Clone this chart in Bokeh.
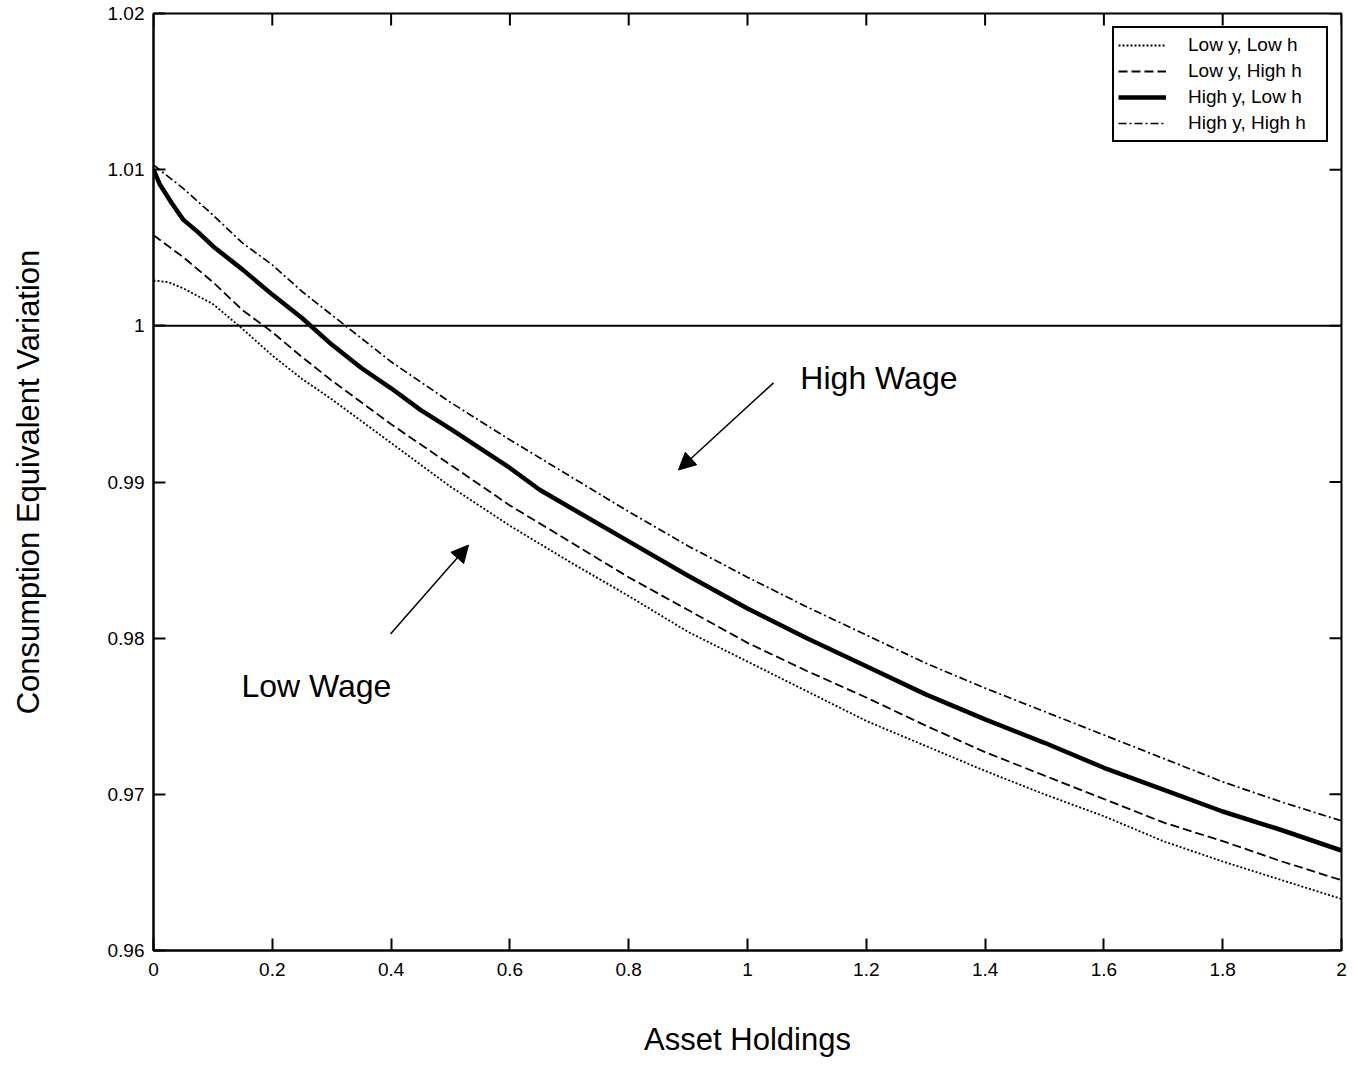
import math
from bokeh.plotting import figure
from bokeh.models import (FixedTicker, CustomJSTickFormatter, Span, Legend,
                          LegendItem, Arrow, NormalHead, Label, Range1d)
from bokeh.embed import file_html
from bokeh.resources import INLINE

# ---- data ----
x_ll = [0, 0.025, 0.05, 0.075, 0.1, 0.125, 0.15, 0.2, 0.25, 0.3, 0.4, 0.5, 0.6, 0.7, 0.8, 0.9,
        1.0, 1.1, 1.2, 1.3, 1.4, 1.5, 1.6, 1.7, 1.8, 1.9, 2.0]
low_y_low_h = [1.0029, 1.0028, 1.0024, 1.0019, 1.0014, 1.0006, 0.9998, 0.9981, 0.9966, 0.9953,
               0.9925, 0.9897, 0.9872, 0.9849, 0.9827, 0.9804, 0.9785, 0.9766, 0.9747, 0.9731,
               0.9715, 0.9700, 0.9686, 0.9670, 0.9657, 0.9645, 0.9633]

x_lh = [0, 0.05, 0.1, 0.15, 0.2, 0.25, 0.3, 0.4, 0.5, 0.6, 0.7, 0.8, 0.9, 1.0, 1.1, 1.2, 1.3,
        1.4, 1.5, 1.6, 1.7, 1.8, 1.9, 2.0]
low_y_high_h = [1.0058, 1.0044, 1.0028, 1.0010, 0.9996, 0.9980, 0.9965, 0.9937, 0.9911, 0.9885,
                0.9862, 0.9839, 0.9818, 0.9797, 0.9779, 0.9762, 0.9744, 0.9727, 0.9712, 0.9697,
                0.9682, 0.9670, 0.9657, 0.9645]

x_hl = [0, 0.01, 0.03, 0.05, 0.075, 0.1, 0.15, 0.2, 0.25, 0.3, 0.35, 0.4, 0.45, 0.5, 0.6, 0.65,
        0.7, 0.8, 0.9, 1.0, 1.1, 1.2, 1.3, 1.4, 1.5, 1.6, 1.7, 1.8, 1.9, 2.0]
high_y_low_h = [1.0100, 1.0091, 1.0079, 1.0068, 1.0060, 1.0051, 1.0036, 1.0020, 1.0005, 0.9988,
                0.9973, 0.9960, 0.9946, 0.9934, 0.9909, 0.9895, 0.9884, 0.9862, 0.9840, 0.9819,
                0.9800, 0.9782, 0.9764, 0.9748, 0.9733, 0.9717, 0.9703, 0.9689, 0.9677, 0.9664]

x_hh = [0, 0.02, 0.05, 0.1, 0.15, 0.2, 0.25, 0.3, 0.4, 0.5, 0.6, 0.7, 0.8, 0.9, 1.0, 1.1, 1.2,
        1.3, 1.4, 1.5, 1.6, 1.7, 1.8, 1.9, 2.0]
high_y_high_h = [1.0103, 1.0097, 1.0088, 1.0071, 1.0053, 1.0039, 1.0022, 1.0007, 0.9977, 0.9951,
                 0.9927, 0.9904, 0.9881, 0.9859, 0.9839, 0.9820, 0.9802, 0.9784, 0.9768, 0.9753,
                 0.9738, 0.9723, 0.9708, 0.9695, 0.9683]

x_ticks = [0, 0.2, 0.4, 0.6, 0.8, 1.0, 1.2, 1.4, 1.6, 1.8, 2.0]
y_ticks = [0.96, 0.97, 0.98, 0.99, 1.0, 1.01, 1.02]
legend_labels = ["Low y, Low h", "Low y, High h", "High y, Low h", "High y, High h"]
reference_level = 1.0
X_MIN, X_MAX = 0, 2
Y_MIN, Y_MAX = 0.96, 1.02

FONT = "Liberation Sans"

p = figure(width=1352, height=1060, output_backend="svg", toolbar_location=None,
           x_range=Range1d(X_MIN, X_MAX), y_range=Range1d(Y_MIN, Y_MAX),
           min_border_left=153, min_border_right=11, min_border_top=13, min_border_bottom=110,
           x_axis_label="Asset Holdings", y_axis_label="Consumption Equivalent Variation")
p.grid.visible = False
p.outline_line_color = "black"
p.outline_line_width = 2
p.outline_line_alpha = 1
p.background_fill_color = "white"
p.border_fill_color = "white"

fmt = CustomJSTickFormatter(code="return tick.toFixed(2).replace(/\\.?0+$/, '');")

for ax, ticks in ((p.xaxis[0], x_ticks), (p.yaxis[0], y_ticks)):
    ax.ticker = FixedTicker(ticks=ticks)
    ax.formatter = fmt
    ax.axis_line_width = 2
    ax.axis_line_color = "black"
    ax.major_tick_line_width = 2
    ax.major_tick_line_color = "black"
    ax.major_tick_in = 12
    ax.major_tick_out = 0
    ax.minor_tick_line_color = None
    ax.major_label_text_font = FONT
    ax.major_label_text_font_size = "19px"
    ax.major_label_text_color = "black"
    ax.axis_label_text_font = FONT
    ax.axis_label_text_font_size = "31px"
    ax.axis_label_text_font_style = "normal"
    ax.axis_label_text_color = "black"

p.xaxis[0].major_label_standoff = 12
p.yaxis[0].major_label_standoff = 9
p.xaxis[0].axis_label_standoff = 43
p.yaxis[0].axis_label_standoff = 59

# inward ticks on the top and right edges of the frame
p.ray(x=x_ticks, y=[Y_MAX] * len(x_ticks), length=12, length_units="screen",
      angle=-math.pi / 2, line_color="black", line_width=2)
p.ray(x=[X_MAX] * len(y_ticks), y=y_ticks, length=12, length_units="screen",
      angle=math.pi, line_color="black", line_width=2)

p.add_layout(Span(location=reference_level, dimension="width", line_color="black", line_width=2))

r1 = p.line(x_ll, low_y_low_h, line_color="black", line_width=1.8, line_dash="2 2")
r2 = p.line(x_lh, low_y_high_h, line_color="black", line_width=1.8, line_dash="9 4")
r3 = p.line(x_hl, high_y_low_h, line_color="black", line_width=4.5)
r4 = p.line(x_hh, high_y_high_h, line_color="black", line_width=1.7, line_dash="8 3 2 3")

legend = Legend(items=[LegendItem(label=legend_labels[i], renderers=[r])
                       for i, r in enumerate([r1, r2, r3, r4])],
                location="top_right")
legend.margin = 13
legend.padding = 4
legend.spacing = 0
legend.label_text_font = FONT
legend.label_text_font_size = "19px"
legend.label_text_color = "black"
legend.label_height = 26
legend.label_width = 134
legend.glyph_height = 26
legend.glyph_width = 48
legend.label_standoff = 22
legend.border_line_color = "black"
legend.border_line_width = 2
legend.border_line_alpha = 1
legend.background_fill_alpha = 1
p.add_layout(legend)

p.add_layout(Label(x=1.089, y=0.99667, text="High Wage", text_font=FONT, text_font_size="32px",
                   text_baseline="middle", text_align="left", text_color="black"))
p.add_layout(Label(x=0.148, y=0.97692, text="Low Wage", text_font=FONT, text_font_size="32px",
                   text_baseline="middle", text_align="left", text_color="black"))

p.add_layout(Arrow(end=NormalHead(size=17, fill_color="black", line_color="black"),
                   x_start=1.0438, y_start=0.99635, x_end=0.8838, y_end=0.99077,
                   line_color="black", line_width=1.5))
p.add_layout(Arrow(end=NormalHead(size=17, fill_color="black", line_color="black"),
                   x_start=0.399, y_start=0.98026, x_end=0.5303, y_end=0.98596,
                   line_color="black", line_width=1.5))

open("out.html", "w").write(file_html(p, INLINE))
